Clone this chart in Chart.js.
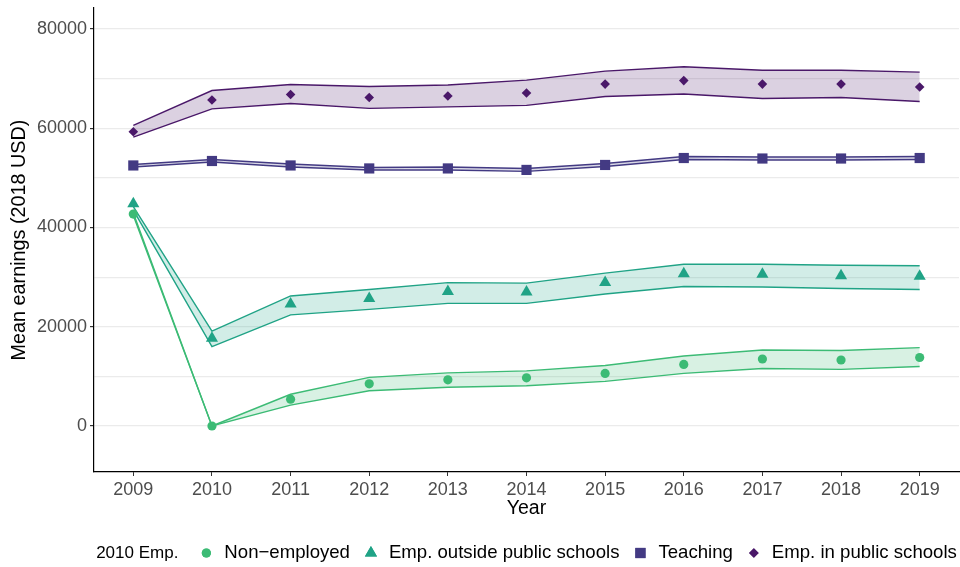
<!DOCTYPE html>
<html>
<head>
<meta charset="utf-8">
<script src="https://cdn.jsdelivr.net/npm/chart.js@4"></script>
<style>
  html, body { margin: 0; padding: 0; background: #fff; }
  #wrap { width: 960px; height: 567px; }
</style>
</head>
<body>
<div id="wrap"><canvas id="cEarn" width="960" height="567"></canvas></div>
<script>
// Mean earnings by 2010 employment status, with confidence bands
const years = [2009, 2010, 2011, 2012, 2013, 2014, 2015, 2016, 2017, 2018, 2019];

const nonEmpMean = [42700, 0, 5400, 8500, 9300, 9700, 10600, 12400, 13500, 13300, 13800];
const nonEmpHi   = [42900, 0, 6400, 9800, 10700, 11100, 12200, 14100, 15300, 15200, 15800];
const nonEmpLo   = [42400, 0, 4200, 7100, 7800, 8100, 9000, 10600, 11600, 11400, 12000];

const outsideMean = [44800, 17700, 24600, 25700, 27100, 27000, 28900, 30700, 30600, 30300, 30200];
const outsideHi   = [44200, 19100, 26200, 27500, 28900, 28800, 30800, 32600, 32600, 32400, 32300];
const outsideLo   = [43500, 16000, 22400, 23500, 24700, 24700, 26600, 28100, 28000, 27700, 27500];

const teachMean = [52500, 53400, 52500, 51900, 51900, 51600, 52600, 54000, 53900, 53900, 54000];
const teachHi   = [52700, 53700, 52800, 52100, 52200, 51900, 52900, 54300, 54200, 54200, 54300];
const teachLo   = [52200, 53200, 52200, 51600, 51600, 51300, 52300, 53700, 53600, 53600, 53700];

const publicMean = [59300, 65700, 66800, 66200, 66500, 67100, 68900, 69600, 68900, 68900, 68300];
const publicHi   = [60600, 67600, 68800, 68400, 68700, 69700, 71500, 72400, 71700, 71700, 71300];
const publicLo   = [58200, 63900, 65000, 64000, 64300, 64600, 66400, 66900, 66000, 66200, 65400];

const yGrid = [0, 10000, 20000, 30000, 40000, 50000, 60000, 70000, 80000];

const groups = [
  { label: 'Non\u2212employed', mean: nonEmpMean, hi: nonEmpHi, lo: nonEmpLo,
    color: '#3CBB75', fill: 'rgba(60,187,117,0.2)', shape: 'circle', r: 4.6 },
  { label: 'Emp. outside public schools', mean: outsideMean, hi: outsideHi, lo: outsideLo,
    color: '#20A386', fill: 'rgba(32,163,134,0.2)', shape: 'triangle', r: 7 },
  { label: 'Teaching', mean: teachMean, hi: teachHi, lo: teachLo,
    color: '#433A83', fill: 'rgba(67,58,131,0.2)', shape: 'rect', r: 7.2 },
  { label: 'Emp. in public schools', mean: publicMean, hi: publicHi, lo: publicLo,
    color: '#4A1869', fill: 'rgba(74,24,105,0.2)', shape: 'rectRot', r: 4.8 }
];

const xy = arr => arr.map((v, i) => ({ x: years[i], y: v }));

// point layers first so they sit on top
const datasets = [];
groups.forEach(g => datasets.push({
  type: 'line', label: g.label, data: xy(g.mean), showLine: false,
  pointStyle: g.shape, pointRadius: g.r, pointHoverRadius: g.r,
  pointBackgroundColor: g.color, pointBorderColor: g.color, pointBorderWidth: 0
}));
groups.forEach(g => {
  datasets.push({
    type: 'line', label: g.label + ' hi', data: xy(g.hi),
    borderColor: g.color, borderWidth: 1.4, backgroundColor: g.fill,
    fill: '+1', tension: 0, pointRadius: 0
  });
  datasets.push({
    type: 'line', label: g.label + ' lo', data: xy(g.lo),
    borderColor: g.color, borderWidth: 1.4, fill: false, tension: 0, pointRadius: 0
  });
});

const FONT = 'Liberation Sans, Arial, sans-serif';

// legend row under the x axis, ggplot style
const legendRow = {
  id: 'legendRow',
  afterDraw(chart) {
    const { ctx, chartArea } = chart;
    const y = 553;
    ctx.save();
    ctx.textBaseline = 'middle';
    const title = '2010 Emp.';
    ctx.font = '17px ' + FONT;
    const tW = ctx.measureText(title).width;
    ctx.font = '18.6px ' + FONT;
    let total = tW + 28;
    groups.forEach((g, i) => { total += 18 + ctx.measureText(g.label).width + (i < groups.length - 1 ? 21 : 0); });
    let x = (chartArea.left + chartArea.right) / 2 - total / 2;
    ctx.fillStyle = '#000';
    ctx.font = '17px ' + FONT;
    ctx.fillText(title, x, y);
    ctx.font = '18.6px ' + FONT;
    x += tW + 28;
    groups.forEach(g => {
      ctx.fillStyle = g.color;
      Chart.helpers.drawPoint(ctx, { pointStyle: g.shape, radius: g.r, rotation: 0, borderWidth: 0 }, x, y);
      ctx.fill();
      ctx.fillStyle = '#000';
      ctx.fillText(g.label, x + 18, y);
      x += 18 + ctx.measureText(g.label).width + 21;
    });
    ctx.restore();
  }
};

new Chart(document.getElementById('cEarn').getContext('2d'), {
  data: { datasets },
  options: {
    responsive: false, animation: false,
    devicePixelRatio: 1,
    layout: { autoPadding: false, padding: { top: 8, right: 1, bottom: 43, left: 0 } },
    plugins: { legend: { display: false }, tooltip: { enabled: false } },
    scales: {
      x: {
        type: 'linear', min: 2008.5, max: 2019.5,
        afterBuildTicks: s => { s.ticks = years.map(v => ({ value: v })); },
        afterFit: s => { s.height = 52; s.paddingLeft = 0; s.paddingRight = 0; },
        grid: { drawOnChartArea: false, drawTicks: true, tickLength: 4, tickColor: '#333' },
        border: { color: '#000', width: 1.2 },
        ticks: { color: '#4D4D4D', font: { family: FONT, size: 18 }, padding: 3, maxRotation: 0,
          callback: v => String(v) },
        title: { display: true, text: 'Year', color: '#000', font: { family: FONT, size: 19.5 },
          padding: { top: 0, bottom: 4 } }
      },
      y: {
        min: -9270, max: 84230,
        afterBuildTicks: s => { s.ticks = yGrid.map(v => ({ value: v })); },
        afterFit: s => { s.width = 94; s.paddingTop = 0; s.paddingBottom = 0; },
        grid: { color: '#EBEBEB', lineWidth: 1.2, tickLength: 4,
          tickColor: c => (c.tick && c.tick.value % 20000 === 0) ? '#333' : 'rgba(0,0,0,0)' },
        border: { color: '#000', width: 1.2 },
        ticks: { color: '#4D4D4D', font: { family: FONT, size: 18 }, padding: 3,
          callback: v => (v % 20000 === 0 ? String(v) : '') },
        title: { display: true, text: 'Mean earnings (2018 USD)', color: '#000',
          font: { family: FONT, size: 19.8 }, padding: { top: 8, bottom: 0 } }
      }
    }
  },
  plugins: [legendRow]
});
</script>
</body>
</html>
